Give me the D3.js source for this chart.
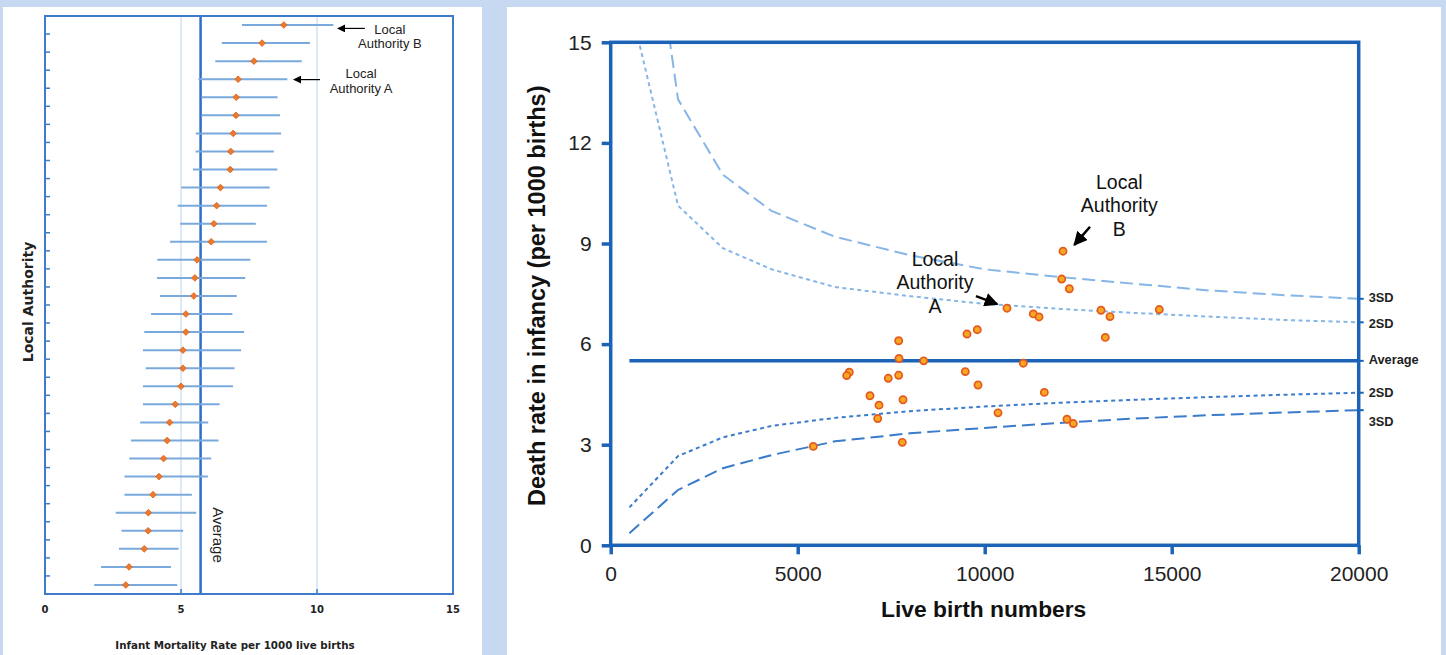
<!DOCTYPE html>
<html><head><meta charset="utf-8">
<script src="https://cdn.jsdelivr.net/npm/d3@7"></script>
<style>body{margin:0;background:#c6d9f0;}svg{display:block;}</style>
</head><body>
<script>
// ---------- Left chart data (caterpillar) ----------
const authorities = d3.range(1, 33).map(i => "LA" + i);
const rates = [8.78,7.98,7.68,7.10,7.03,7.02,6.92,6.83,6.81,6.45,6.31,6.21,6.11,5.59,5.51,5.47,5.18,5.18,5.07,5.07,5.00,4.79,4.58,4.49,4.36,4.19,3.97,3.80,3.79,3.65,3.09,2.97];
const lowerCI = [7.24,6.50,6.26,5.64,5.75,5.75,5.54,5.54,5.44,5.01,4.88,4.97,4.60,4.13,4.12,4.23,3.90,3.65,3.60,3.70,3.60,3.60,3.50,3.16,3.10,2.92,2.92,2.60,2.81,2.72,2.06,1.81];
const upperCI = [10.60,9.74,9.44,8.91,8.55,8.64,8.68,8.41,8.54,8.26,8.16,7.75,8.16,7.55,7.36,7.05,6.89,7.32,7.21,6.97,6.91,6.42,6.00,6.38,6.11,5.99,5.40,5.56,5.08,4.91,4.63,4.86];
const leftAverage = 5.72;
const leftTicks = [0, 5, 10, 15];
const leftGrid = [5, 10];

// ---------- Right chart data (funnel) ----------
const births = [12094,12059,12263,10596,11300,11452,13110,13350,14668,13225,9527,9802,7700,7709,8369,11032,6380,6310,7422,7700,9481,9821,11594,6933,7174,7816,7139,10356,12200,12369,7797,5417];
const deathRates = [8.77,7.94,7.65,7.07,6.90,6.81,7.01,6.82,7.03,6.20,6.30,6.43,6.10,5.57,5.50,5.43,5.16,5.06,4.98,5.07,5.18,4.78,4.56,4.46,4.18,4.34,3.78,3.95,3.76,3.63,3.07,2.95];
const funnelBirths = [500,1800,3000,4300,6000,8000,10000,12000,14000,16000,18000,20000];
const upper3SD = [23.6,13.3,11.05,9.97,9.2,8.65,8.23,8.0,7.8,7.6,7.46,7.35];
const upper2SD = [16.2,10.13,8.86,8.23,7.7,7.43,7.2,7.05,6.93,6.82,6.72,6.65];
const lower2SD = [1.13,2.66,3.22,3.56,3.8,4.0,4.14,4.25,4.34,4.42,4.49,4.55];
const lower3SD = [0.36,1.65,2.3,2.69,3.1,3.34,3.5,3.65,3.78,3.88,3.96,4.03];
const rightAverage = 5.5;
const averageBirthRange = [500, 20000];
const xTicksRight = [0,5000,10000,15000,20000];
const yTicksRight = [0,3,6,9,12,15];
const endLabels = ["3SD","2SD","Average","2SD","3SD"];
const endLabelValues = [7.38,6.6,5.55,4.55,3.7];

const W = 1446, H = 655;
const svg = d3.select("body").append("svg").attr("width", W).attr("height", H);
svg.append("rect").attr("width", W).attr("height", H).attr("fill", "#c6d9f0");

const defs = svg.append("defs");
function marker(id, size) {
  defs.append("marker").attr("id", id).attr("viewBox", "0 0 10 10")
    .attr("refX", 9).attr("refY", 5).attr("markerWidth", size).attr("markerHeight", size)
    .attr("markerUnits", "userSpaceOnUse").attr("orient", "auto")
    .append("path").attr("d", "M0,0 L10,5 L0,10 Z").attr("fill", "#000");
}
marker("arrowSmall", 8);
marker("arrowBig", 14);

// ================= LEFT PANEL =================
svg.append("rect").attr("x", 3).attr("y", 7).attr("width", 479).attr("height", 648).attr("fill", "#fff");
const L = {left: 45, right: 453, top: 16, bottom: 594};
const xL = d3.scaleLinear().domain([0, 15]).range([L.left, L.right]);
const yL = d3.scaleBand().domain(authorities).range([L.top, L.bottom]);
const gL = svg.append("g");

// grid lines
gL.selectAll(".grid").data(leftGrid).join("line")
  .attr("x1", d => xL(d)).attr("x2", d => xL(d)).attr("y1", L.top).attr("y2", L.bottom)
  .attr("stroke", "#d3e2f4").attr("stroke-width", 1.5);
// average line
gL.append("line").attr("x1", xL(leftAverage)).attr("x2", xL(leftAverage))
  .attr("y1", L.top).attr("y2", L.bottom).attr("stroke", "#2f6fc2").attr("stroke-width", 2.5);
gL.append("text").attr("transform", `translate(${xL(leftAverage) + 18},535) rotate(90)`)
  .attr("text-anchor", "middle").attr("dy", "0.35em")
  .attr("font-family", "Liberation Sans, Arial, sans-serif").attr("font-size", 15).attr("fill", "#222")
  .text("Average");

// error bars
const leftData = authorities.map((a, i) => ({a, r: rates[i], lo: lowerCI[i], hi: upperCI[i]}));
gL.selectAll(".ci").data(leftData).join("line")
  .attr("x1", d => xL(d.lo)).attr("x2", d => xL(d.hi))
  .attr("y1", d => yL(d.a) + yL.bandwidth() / 2).attr("y2", d => yL(d.a) + yL.bandwidth() / 2)
  .attr("stroke", "#7aa9dd").attr("stroke-width", 2);
gL.selectAll(".pt").data(leftData).join("path")
  .attr("d", d3.symbol(d3.symbolSquare, 22)())
  .attr("transform", d => `translate(${xL(d.r)},${yL(d.a) + yL.bandwidth() / 2}) rotate(45)`)
  .attr("fill", "#ec7a2e").attr("stroke", "#dc621c").attr("stroke-width", 0.8);

// frame
gL.append("rect").attr("x", L.left).attr("y", L.top).attr("width", L.right - L.left).attr("height", L.bottom - L.top)
  .attr("fill", "none").attr("stroke", "#3f7bc8").attr("stroke-width", 2);
// y ticks at band boundaries (inward)
gL.selectAll(".yt").data(authorities.slice(1)).join("line")
  .attr("x1", L.left).attr("x2", L.left + 5)
  .attr("y1", d => yL(d)).attr("y2", d => yL(d))
  .attr("stroke", "#3f7bc8").attr("stroke-width", 1.5);
// x ticks inward
gL.selectAll(".xt").data(leftTicks.slice(1, -1)).join("line")
  .attr("x1", d => xL(d)).attr("x2", d => xL(d)).attr("y1", L.bottom).attr("y2", L.bottom - 5)
  .attr("stroke", "#3f7bc8").attr("stroke-width", 1.5);
// x tick labels
gL.selectAll(".xl").data(leftTicks).join("text")
  .attr("x", d => xL(d)).attr("y", 612.5).attr("text-anchor", "middle")
  .attr("font-family", "DejaVu Sans, sans-serif").attr("font-weight", "bold").attr("font-size", 10).attr("fill", "#222")
  .text(d => d);
gL.append("text").attr("x", (L.left + L.right) / 2 - 14).attr("y", 649).attr("text-anchor", "middle")
  .attr("font-family", "DejaVu Sans, sans-serif").attr("font-weight", "bold").attr("font-size", 10.3).attr("fill", "#222")
  .text("Infant Mortality Rate per 1000 live births");
gL.append("text").attr("transform", `translate(28,${(L.top + L.bottom) / 2 - 3}) rotate(-90)`)
  .attr("text-anchor", "middle").attr("dy", "0.35em")
  .attr("font-family", "DejaVu Sans, sans-serif").attr("font-weight", "bold").attr("font-size", 14).attr("fill", "#222")
  .text("Local Authority");

// left annotations
const leftAnn = [
  {i: 0, from: 11.76, to: 10.77, arrowDy: 3.4, tx: 12.68, lines: ["Local", "Authority B"], ty: [4, 18]},
  {i: 3, from: 10.11, to: 9.15, arrowDy: 0.4, tx: 11.62, lines: ["Local", "Authority A"], ty: [-6, 9]}
];
leftAnn.forEach(a => {
  const cy = yL(authorities[a.i]) + yL.bandwidth() / 2;
  gL.append("line").attr("x1", xL(a.from)).attr("x2", xL(a.to)).attr("y1", cy + a.arrowDy).attr("y2", cy + a.arrowDy)
    .attr("stroke", "#000").attr("stroke-width", 1.2).attr("marker-end", "url(#arrowSmall)");
  a.lines.forEach((t, k) => {
    gL.append("text").attr("x", xL(a.tx)).attr("y", cy + a.ty[k]).attr("dy", "0.35em").attr("text-anchor", "middle")
      .attr("font-family", "Liberation Sans, Arial, sans-serif").attr("font-size", 13).attr("fill", "#222").text(t);
  });
});

// ================= RIGHT PANEL =================
svg.append("rect").attr("x", 507).attr("y", 7).attr("width", 934).attr("height", 648).attr("fill", "#fff");
const R = {left: 610.7, right: 1358.7, top: 42.3, bottom: 545.3};
const xR = d3.scaleLinear().domain([0, 20000]).range([R.left, R.right]);
const yR = d3.scaleLinear().domain([0, 15]).range([R.bottom, R.top]);
const gR = svg.append("g");
const axisColor = "#1c63b7";

defs.append("clipPath").attr("id", "plotClip").append("rect")
  .attr("x", R.left).attr("y", R.top).attr("width", R.right - R.left).attr("height", R.bottom - R.top);

const line = d3.line().x(d => xR(d.b)).y(d => yR(d.v));
const funnel = [
  {vals: upper3SD, color: "#86b6e6", dash: "13,6"},
  {vals: upper2SD, color: "#86b6e6", dash: "4,3.5"},
  {vals: lower2SD, color: "#3a7bcb", dash: "4,3.5"},
  {vals: lower3SD, color: "#3a7bcb", dash: "13,6"}
];
gR.append("g").attr("clip-path", "url(#plotClip)").selectAll("path").data(funnel).join("path")
  .attr("d", f => line(funnelBirths.map((b, i) => ({b, v: f.vals[i]}))))
  .attr("fill", "none").attr("stroke", f => f.color).attr("stroke-width", 2).attr("stroke-dasharray", f => f.dash);

// average
gR.append("line").attr("x1", xR(averageBirthRange[0])).attr("x2", xR(averageBirthRange[1]))
  .attr("y1", yR(rightAverage)).attr("y2", yR(rightAverage)).attr("stroke", axisColor).attr("stroke-width", 3.5);

// points
gR.selectAll(".pt").data(births.map((b, i) => ({b, v: deathRates[i]}))).join("circle")
  .attr("cx", d => xR(d.b)).attr("cy", d => yR(d.v)).attr("r", 3.6)
  .attr("fill", "#f9a623").attr("stroke", "#e35a1e").attr("stroke-width", 1.7);

// frame
gR.append("rect").attr("x", R.left).attr("y", R.top).attr("width", R.right - R.left).attr("height", R.bottom - R.top)
  .attr("fill", "none").attr("stroke", axisColor).attr("stroke-width", 3.5);

// axes
const fontR = "Liberation Sans, Arial, sans-serif";
const xAxis = gR.append("g").attr("transform", `translate(0,${R.bottom})`)
  .call(d3.axisBottom(xR).tickValues(xTicksRight).tickSize(9).tickPadding(12).tickFormat(d3.format("d")));
const yAxis = gR.append("g").attr("transform", `translate(${R.left},0)`)
  .call(d3.axisLeft(yR).tickValues(yTicksRight).tickSize(9).tickPadding(10));
[xAxis, yAxis].forEach(a => {
  a.select(".domain").remove();
  a.selectAll(".tick line").attr("stroke", axisColor).attr("stroke-width", 3.5);
  a.selectAll(".tick text").attr("font-family", fontR).attr("font-size", 21).attr("fill", "#222");
});

// right stubs at line ends + labels
const stubVals = [upper3SD[upper3SD.length - 1], upper2SD[upper2SD.length - 1], rightAverage,
  lower2SD[lower2SD.length - 1], lower3SD[lower3SD.length - 1]];
gR.selectAll(".stub").data(stubVals).join("line")
  .attr("x1", R.right).attr("x2", R.right + 5).attr("y1", d => yR(d)).attr("y2", d => yR(d))
  .attr("stroke", axisColor).attr("stroke-width", 2);
gR.selectAll(".endlab").data(endLabels).join("text")
  .attr("x", R.right + 10).attr("y", (d, i) => yR(endLabelValues[i])).attr("dy", "0.35em")
  .attr("font-family", fontR).attr("font-weight", "bold").attr("font-size", 12.8).attr("fill", "#222")
  .text(d => d);

// titles
gR.append("text").attr("x", (R.left + R.right) / 2 - 1).attr("y", 617).attr("text-anchor", "middle")
  .attr("font-family", fontR).attr("font-weight", "bold").attr("font-size", 22.8).attr("fill", "#111")
  .text("Live birth numbers");
gR.append("text").attr("transform", `translate(537,${(R.top + R.bottom) / 2 + 2}) rotate(-90)`)
  .attr("text-anchor", "middle").attr("dy", "0.35em")
  .attr("font-family", fontR).attr("font-weight", "bold").attr("font-size", 23.5).attr("fill", "#111")
  .text("Death rate in infancy (per 1000 births)");

// right annotations
const rightAnn = [
  {lines: ["Local", "Authority", "A"], tb: 8671, tv: 8.54, from: [9767, 7.43], to: [10337, 7.19]},
  {lines: ["Local", "Authority", "B"], tb: 13599, tv: 10.84, from: [12816, 9.5], to: [12396, 8.96]}
];
rightAnn.forEach(a => {
  a.lines.forEach((t, k) => {
    gR.append("text").attr("x", xR(a.tb)).attr("y", yR(a.tv) + k * 23.6).attr("dy", "0.35em")
      .attr("text-anchor", "middle").attr("font-family", fontR).attr("font-size", 19.5).attr("fill", "#111").text(t);
  });
  gR.append("line").attr("x1", xR(a.from[0])).attr("y1", yR(a.from[1]))
    .attr("x2", xR(a.to[0])).attr("y2", yR(a.to[1]))
    .attr("stroke", "#000").attr("stroke-width", 2.5).attr("marker-end", "url(#arrowBig)");
});
</script>
</body></html>
